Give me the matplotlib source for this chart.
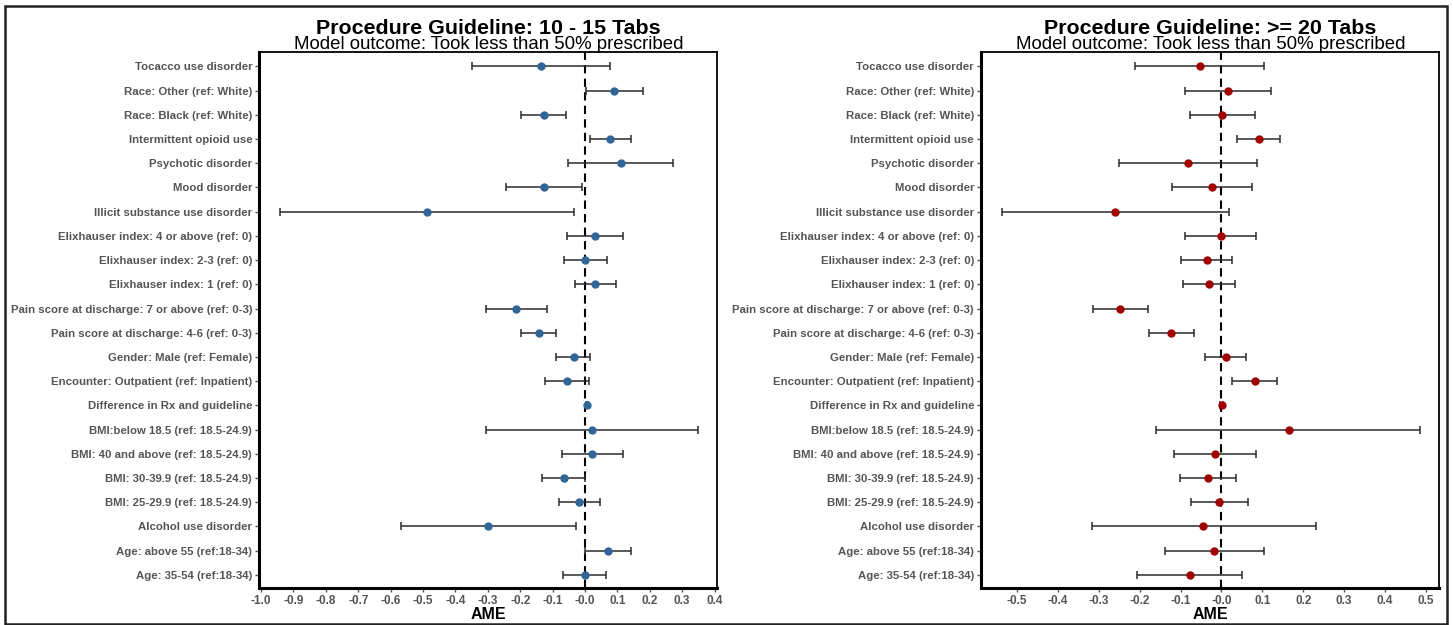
import matplotlib
matplotlib.use("Agg")
import matplotlib.pyplot as plt
from matplotlib.patches import Rectangle
import numpy as np

plt.rcParams['font.family'] = ['Liberation Sans', 'DejaVu Sans']

labels = [
    "Tocacco use disorder",
    "Race: Other (ref: White)",
    "Race: Black (ref: White)",
    "Intermittent opioid use",
    "Psychotic disorder",
    "Mood disorder",
    "Illicit substance use disorder",
    "Elixhauser index: 4 or above (ref: 0)",
    "Elixhauser index: 2-3 (ref: 0)",
    "Elixhauser index: 1 (ref: 0)",
    "Pain score at discharge: 7 or above (ref: 0-3)",
    "Pain score at discharge: 4-6 (ref: 0-3)",
    "Gender: Male (ref: Female)",
    "Encounter: Outpatient (ref: Inpatient)",
    "Difference in Rx and guideline",
    "BMI:below 18.5 (ref: 18.5-24.9)",
    "BMI: 40 and above (ref: 18.5-24.9)",
    "BMI: 30-39.9 (ref: 18.5-24.9)",
    "BMI: 25-29.9 (ref: 18.5-24.9)",
    "Alcohol use disorder",
    "Age: above 55 (ref:18-34)",
    "Age: 35-54 (ref:18-34)",
]

# 10 - 15 tabs
ame_a = [-0.137, 0.091, -0.128, 0.078, 0.111, -0.125, -0.488, 0.030, 0.001, 0.030,
         -0.212, -0.142, -0.035, -0.056, 0.006, 0.023, 0.023, -0.066, -0.019, -0.298,
         0.071, 0.000]
lo_a = [-0.348, 0.003, -0.197, 0.016, -0.052, -0.243, -0.942, -0.055, -0.065, -0.032,
        -0.304, -0.199, -0.088, -0.122, 0.002, -0.304, -0.071, -0.132, -0.079, -0.568,
        0.000, -0.068]
hi_a = [0.078, 0.180, -0.058, 0.142, 0.273, -0.009, -0.035, 0.117, 0.069, 0.095,
        -0.118, -0.088, 0.017, 0.013, 0.010, 0.348, 0.117, -0.001, 0.045, -0.027,
        0.142, 0.066]

# >= 20 tabs
ame_b = [-0.053, 0.015, 0.001, 0.091, -0.082, -0.024, -0.259, -0.002, -0.036, -0.030,
         -0.248, -0.123, 0.010, 0.081, 0.001, 0.164, -0.015, -0.034, -0.005, -0.044,
         -0.017, -0.077]
lo_b = [-0.211, -0.090, -0.078, 0.039, -0.250, -0.122, -0.536, -0.090, -0.099, -0.093,
        -0.315, -0.178, -0.039, 0.026, -0.003, -0.159, -0.115, -0.102, -0.075, -0.317,
        -0.139, -0.206]
hi_b = [0.105, 0.120, 0.081, 0.142, 0.088, 0.074, 0.019, 0.084, 0.026, 0.033,
        -0.180, -0.067, 0.059, 0.135, 0.005, 0.485, 0.084, 0.035, 0.065, 0.230,
        0.105, 0.051]

ticks_a = np.round(np.arange(-1.0, 0.41, 0.1), 1)
ticks_b = np.round(np.arange(-0.5, 0.51, 0.1), 1)

fig = plt.figure(figsize=(14.53, 6.25), dpi=100)
fig.patches.append(Rectangle((0.0035, 0.002), 0.9925, 0.988, transform=fig.transFigure,
                             fill=False, edgecolor='#222222', linewidth=1.8))

panels = [
    (0.1783, "Procedure Guideline: 10 - 15 Tabs", ame_a, lo_a, hi_a, '#2f6597', (-1.006, 0.409), ticks_a),
    (0.6752, "Procedure Guideline: >= 20 Tabs", ame_b, lo_b, hi_b, '#a00000', (-0.5875, 0.533), ticks_b),
]

y = np.arange(len(labels))
for left, title, ame, lo, hi, col, xlim, ticks in panels:
    ax = fig.add_axes([left, 0.059, 0.3155, 0.858])
    ame = np.array(ame)
    err = [ame - np.array(lo), np.array(hi) - ame]
    ax.axvline(0, color='black', linestyle=(0, (4, 2.5)), linewidth=1.5, zorder=1)
    ax.errorbar(ame, y, xerr=err, fmt='none', ecolor='#2b2b2b', elinewidth=1.1,
                capsize=2.7, capthick=1.1, zorder=2)
    ax.plot(ame, y, 'o', color=col, markersize=5, zorder=3)
    ax.set_ylim(len(labels) - 1 + 0.55, -0.6)
    ax.set_xlim(*xlim)
    ax.set_yticks(y)
    ax.set_yticklabels(labels, fontsize=8.2, fontweight='bold', color='#555555')
    ax.set_xticks(ticks)
    ax.set_xticklabels([f"{t:.1f}" for t in ticks], fontsize=8.5, fontweight='bold', color='#555555')
    ax.tick_params(axis='both', length=3, width=1, color='#555555', pad=2)
    ax.set_xlabel("AME", fontsize=11.5, fontweight='bold', labelpad=0)
    for s in ['left', 'bottom']:
        ax.spines[s].set_linewidth(2.2)
    for s in ['top', 'right']:
        ax.spines[s].set_linewidth(1.3)
    cx = left + 0.3155 / 2
    fig.text(cx, 0.9456, title, ha='center', va='baseline', fontsize=15.4, fontweight='bold')
    fig.text(cx, 0.921, "Model outcome: Took less than 50% prescribed", ha='center',
             va='baseline', fontsize=13.4)

fig.savefig("out.png", dpi=100)
